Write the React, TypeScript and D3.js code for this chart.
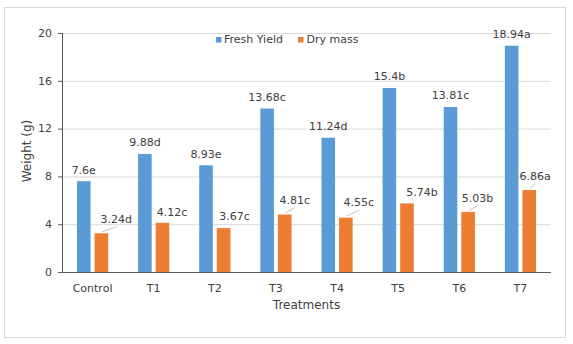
import React from "react";
import * as d3 from "d3";

const categories = ["Control", "T1", "T2", "T3", "T4", "T5", "T6", "T7"];
const freshYield = [7.6, 9.88, 8.93, 13.68, 11.24, 15.4, 13.81, 18.94];
const freshLabels = ["7.6e", "9.88d", "8.93e", "13.68c", "11.24d", "15.4b", "13.81c", "18.94a"];
const dryMass = [3.24, 4.12, 3.67, 4.81, 4.55, 5.74, 5.03, 6.86];
const dryLabels = ["3.24d", "4.12c", "3.67c", "4.81c", "4.55c", "5.74b", "5.03b", "6.86a"];
const dryHasLeader = [true, false, false, true, true, false, true, true];
const dryOffsets: [number, number][] = [
  [15, -14], [9.5, -11], [11, -11.5], [10, -14.5], [13, -15], [15, -11], [9.5, -14], [6, -14],
];
const yTicks = [0, 4, 8, 12, 16, 20];
const seriesNames = ["Fresh Yield", "Dry mass"];

const W = 573, H = 344;
const left = 62, right = 551, top = 33, bottom = 272;
const BLUE = "#5B9BD5", ORANGE = "#ED7D31";
const FONT = "'DejaVu Sans', Verdana, sans-serif";
const TXT = "#404040";

export default function App() {
  const x = d3.scaleBand<string>().domain(categories).range([left, right]);
  const y = d3.scaleLinear().domain([0, 20]).range([bottom, top]);
  const bw = 13.6, gap = 4;
  return (
    <svg width={W} height={H} style={{ position: "absolute", left: 0, top: 0, background: "#fff" }} fontFamily={FONT}>
      <rect x={0} y={0} width={W} height={H} fill="#fff" />
      <rect x={4.5} y={7.5} width={561} height={330} fill="#fff" stroke="#d9d9d9" strokeWidth={1} />
      {yTicks.map((t) => (
        <g key={t}>
          {t > 0 && <line x1={left} x2={right} y1={y(t) + 0.5} y2={y(t) + 0.5} stroke="#d9d9d9" />}
          <line x1={left - 4} x2={left} y1={y(t) + 0.5} y2={y(t) + 0.5} stroke="#595959" />
          <text x={left - 10} y={y(t)} dy="0.35em" textAnchor="end" fontSize={11} fill={TXT}>{t}</text>
        </g>
      ))}
      {categories.map((c, i) => {
        const cx = x(c)! + x.bandwidth() / 2;
        const bx1 = cx - gap / 2 - bw;
        const bx2 = cx + gap / 2;
        const [dx, dy] = dryOffsets[i];
        const dTop = y(dryMass[i]);
        const lx = bx2 + bw / 2 + dx;
        const ly = dTop + dy;
        return (
          <g key={c}>
            <rect x={bx1} y={y(freshYield[i])} width={bw} height={bottom - y(freshYield[i])} fill={BLUE} />
            <rect x={bx2} y={dTop} width={bw} height={bottom - dTop} fill={ORANGE} />
            <text x={bx1 + bw / 2} y={y(freshYield[i]) - 11.5} dy="0.35em" textAnchor="middle" fontSize={11} fill={TXT}>{freshLabels[i]}</text>
            {dryHasLeader[i] && (
              <line x1={bx2 + bw / 2 + 1} y1={dTop - 1.5} x2={lx} y2={ly + 7.5} stroke="#bfbfbf" strokeWidth={1} />
            )}
            <text x={lx} y={ly} dy="0.35em" textAnchor="middle" fontSize={11} fill={TXT}>{dryLabels[i]}</text>
            <text x={cx} y={288} dy="0.35em" textAnchor="middle" fontSize={11} fill={TXT}>{c}</text>
          </g>
        );
      })}
      <line x1={left + 0.5} x2={left + 0.5} y1={top} y2={bottom} stroke="#595959" />
      <line x1={left} x2={right} y1={bottom + 0.5} y2={bottom + 0.5} stroke="#595959" />
      <text x={(left + right) / 2} y={305} dy="0.35em" textAnchor="middle" fontSize={12} fill={TXT}>Treatments</text>
      <text transform={`translate(27,151) rotate(-90)`} dy="0.35em" textAnchor="middle" fontSize={12} fill={TXT}>Weight (g)</text>
      <rect x={216} y={37} width={5.5} height={5.5} fill={BLUE} />
      <text x={224} y={39.5} dy="0.35em" fontSize={11} fill={TXT}>{seriesNames[0]}</text>
      <rect x={298} y={37} width={5.5} height={5.5} fill={ORANGE} />
      <text x={306.5} y={39.5} dy="0.35em" fontSize={11} fill={TXT}>{seriesNames[1]}</text>
    </svg>
  );
}
